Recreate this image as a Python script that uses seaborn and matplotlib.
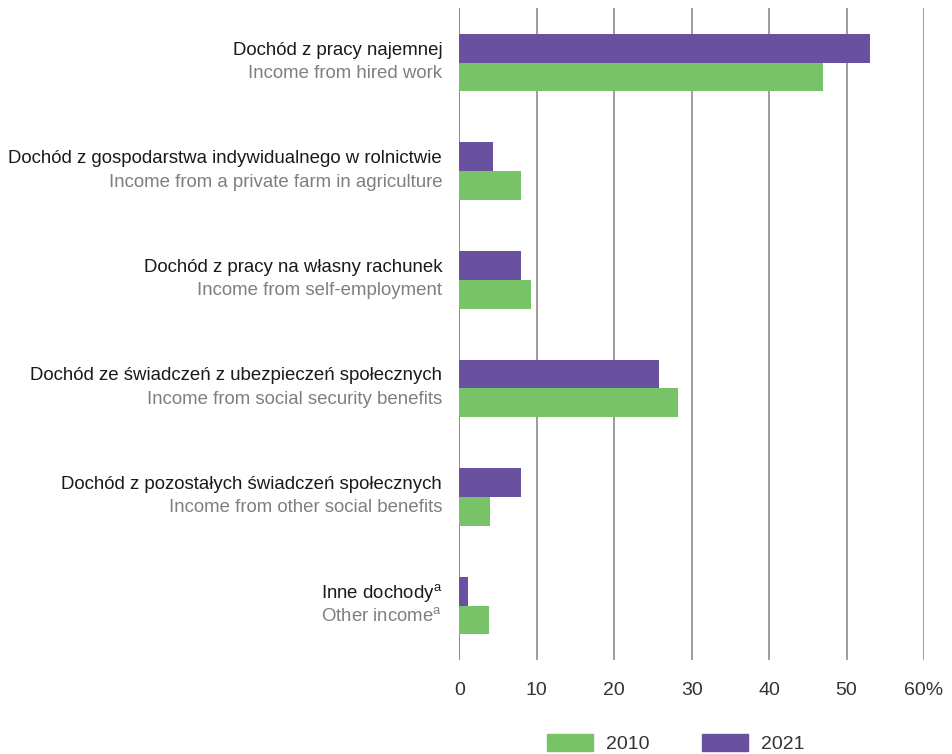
import matplotlib
matplotlib.use("Agg")
import matplotlib.pyplot as plt
import matplotlib.patches as mpatches
import seaborn as sns
import pandas as pd

categories_pl = [
    "Dochód z pracy najemnej",
    "Dochód z gospodarstwa indywidualnego w rolnictwie",
    "Dochód z pracy na własny rachunek",
    "Dochód ze świadczeń z ubezpieczeń społecznych",
    "Dochód z pozostałych świadczeń społecznych",
    "Inne dochody$^{\\mathrm{a}}$",
]
categories_en = [
    "Income from hired work",
    "Income from a private farm in agriculture",
    "Income from self-employment",
    "Income from social security benefits",
    "Income from other social benefits",
    "Other income$^{\\mathrm{a}}$",
]
values_2010 = [47.0, 8.0, 9.2, 28.2, 3.9, 3.8]
values_2021 = [53.0, 4.3, 8.0, 25.8, 8.0, 1.1]
years = ["2010", "2021"]
xticks = [0, 10, 20, 30, 40, 50, 60]
xticklabels = ["0", "10", "20", "30", "40", "50", "60%"]

GREEN = "#78c367"
PURPLE = "#6a51a0"

sns.set_theme(style="white")
plt.rcParams["font.family"] = ["Liberation Sans", "DejaVu Sans"]
plt.rcParams["mathtext.fontset"] = "custom"
plt.rcParams["mathtext.rm"] = "Liberation Sans"

df = pd.DataFrame({
    "cat": categories_pl * 2,
    "value": values_2021 + values_2010,
    "year": ["2021"] * len(categories_pl) + ["2010"] * len(categories_pl),
})

fig = plt.figure(figsize=(9.53, 7.54), dpi=100)
ax = fig.add_axes([0.482, 0.1247, 0.9696 - 0.482, 0.989 - 0.1247])

sns.barplot(data=df, y="cat", x="value", hue="year", hue_order=["2021", "2010"],
            palette={"2021": PURPLE, "2010": GREEN}, orient="h", width=0.53,
            ax=ax, legend=False, saturation=1, linewidth=0, order=categories_pl)

ax.set_xlim(0, 60)
ax.set_ylim(5.5, -0.5)
ax.set_xticks(xticks)
ax.set_xticklabels(xticklabels, fontsize=14, color="#333333")
ax.set_yticks([])
ax.set_xlabel("")
ax.set_ylabel("")
for s in ax.spines.values():
    s.set_visible(False)
for xv in xticks:
    ax.axvline(xv, color="#8c8c8c" if xv else "#777777", lw=1.2, zorder=0)
ax.tick_params(axis="x", length=4, width=1.2, color="#8c8c8c", pad=12)

trans = matplotlib.transforms.blended_transform_factory(ax.transAxes, ax.transData)
for i, (pl, en) in enumerate(zip(categories_pl, categories_en)):
    ax.text(-0.037, i - 0.115, pl, transform=trans, ha="right", va="center",
            fontsize=13.4, color="#1a1a1a")
    ax.text(-0.037, i + 0.1, en, transform=trans, ha="right", va="center",
            fontsize=13.4, color="#7f7f7f")

handles = [mpatches.Patch(color=GREEN, label="2010"),
           mpatches.Patch(color=PURPLE, label="2021")]
fig.legend(handles=handles, loc="center", bbox_to_anchor=(0.709, 0.014), ncol=2,
           frameon=False, fontsize=14, handlelength=2.37, handleheight=1.03,
           columnspacing=2.7, handletextpad=0.67, labelcolor="#333333",
           borderpad=0)

fig.savefig("out.png", dpi=100)
